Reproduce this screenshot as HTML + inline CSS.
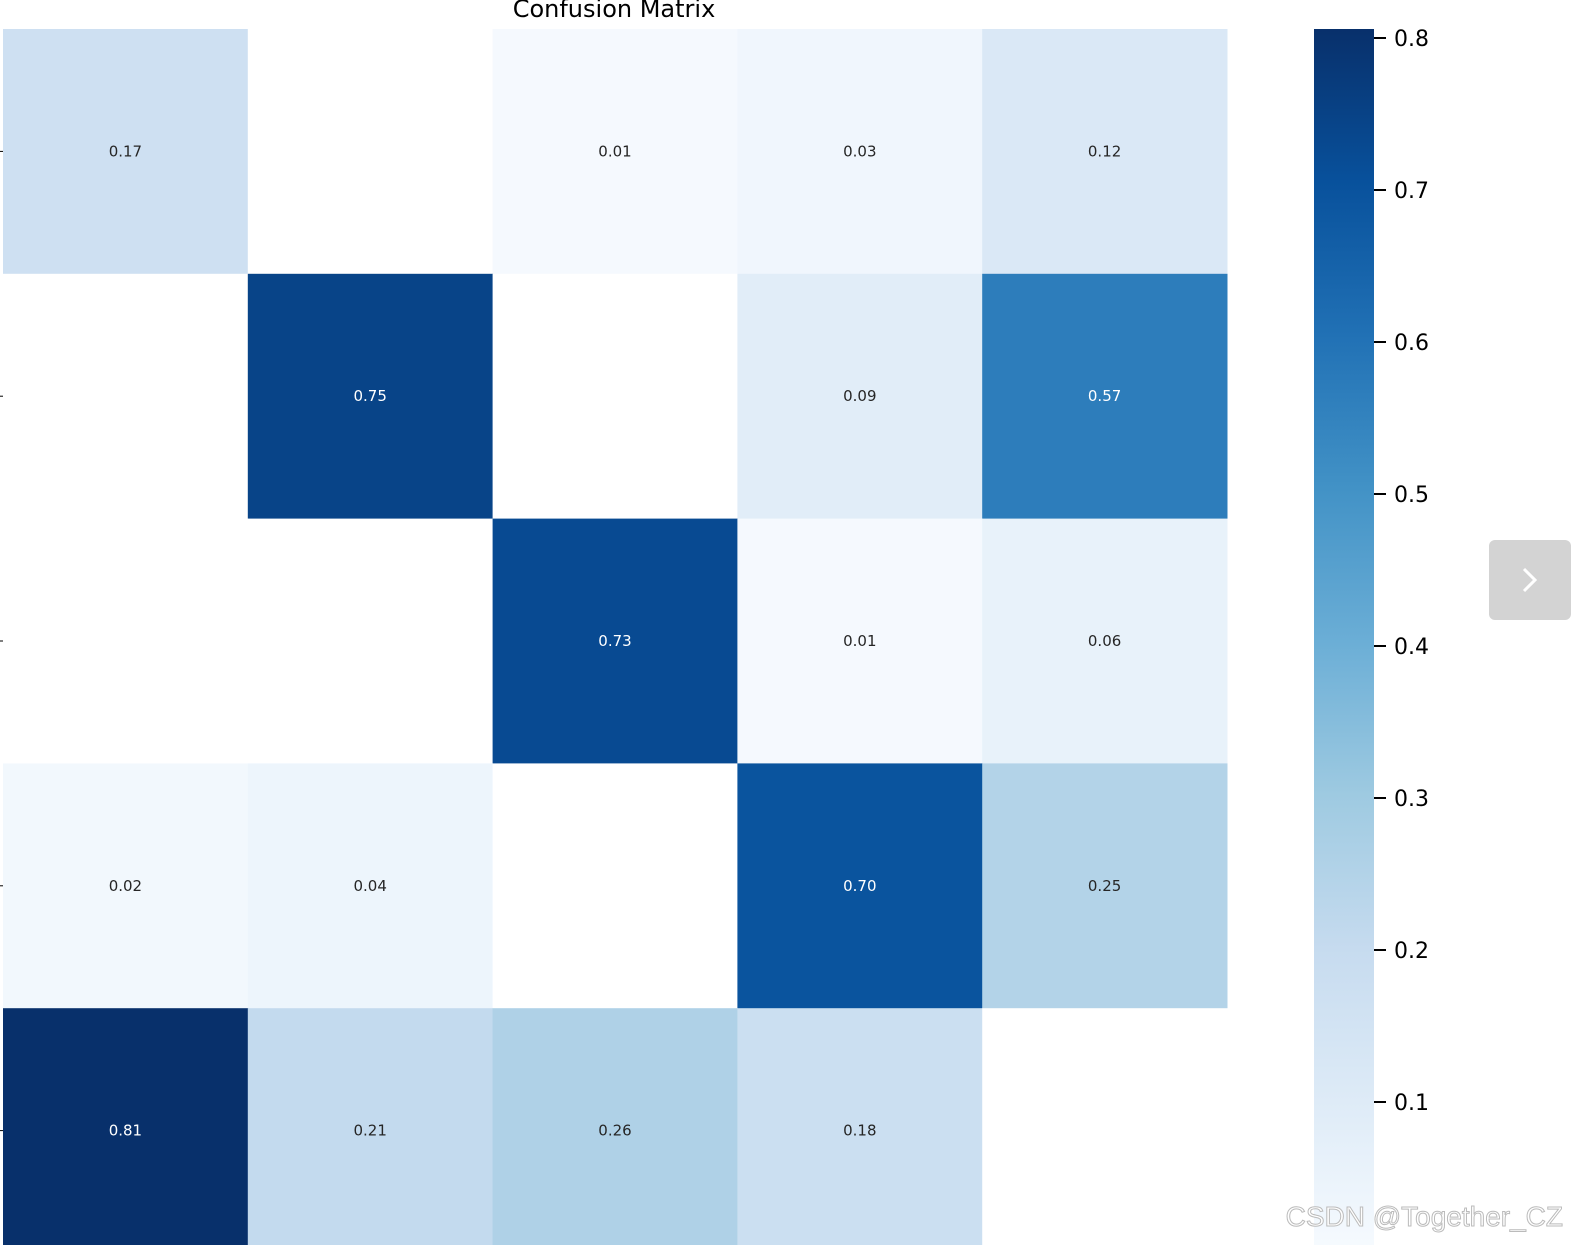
<!DOCTYPE html>
<html><head><meta charset="utf-8"><style>
body{margin:0;width:1571px;height:1245px;overflow:hidden;background:#fff;font-family:"DejaVu Sans","Liberation Sans",sans-serif;}
</style></head><body>
<svg id="chart" width="1571" height="1245">
<defs><linearGradient id="cb" x1="0" y1="1" x2="0" y2="0">
<stop offset="0" stop-color="#f7fbff"/><stop offset="0.125" stop-color="#deebf7"/><stop offset="0.25" stop-color="#c6dbef"/><stop offset="0.375" stop-color="#9ecae1"/><stop offset="0.5" stop-color="#6baed6"/><stop offset="0.625" stop-color="#4292c6"/><stop offset="0.75" stop-color="#2171b5"/><stop offset="0.875" stop-color="#08519c"/><stop offset="1" stop-color="#08306b"/>
</linearGradient></defs>
<g id="cells"></g>
<text x="614" y="17" text-anchor="middle" font-size="24" fill="#000">Confusion Matrix</text>
<rect x="1314" y="29" width="60" height="1226" fill="url(#cb)"/>
<g id="cbticks"></g>
<g>
<rect x="1489" y="540" width="82" height="80" rx="6" fill="#d3d3d3"/>
<path d="M1524 569 L1535 580 L1524 591" stroke="#fff" stroke-width="3" fill="none"/>
</g>
<text x="1563" y="1226" text-anchor="end" font-size="28" fill="#fff" stroke="#bbb" stroke-width="1" font-family="Liberation Sans, sans-serif">CSDN @Together_CZ</text>
</svg>
<script>
const rowVals0=[0.17,0,0.01,0.03,0.12];
const rowVals1=[0,0.75,0,0.09,0.57];
const rowVals2=[0,0,0.73,0.01,0.06];
const rowVals3=[0.02,0.04,0,0.70,0.25];
const rowVals4=[0.81,0.21,0.26,0.18,0];
const matrix=[rowVals0,rowVals1,rowVals2,rowVals3,rowVals4];
const cbTicks=[0.1,0.2,0.3,0.4,0.5,0.6,0.7,0.8];
const vmin=0,vmax=0.81;
const stops=["#f7fbff","#deebf7","#c6dbef","#9ecae1","#6baed6","#4292c6","#2171b5","#08519c","#08306b"].map(h=>[1,3,5].map(i=>parseInt(h.substr(i,2),16)));
function color(v){let t=Math.max(0,Math.min(1,(v-vmin)/(vmax-vmin)))*8;let i=Math.min(7,Math.floor(t)),f=t-i;const c=stops[i].map((a,k)=>Math.round(a+(stops[i+1][k]-a)*f));return `rgb(${c})`;}
const x0=3,y0=29,cw=244.8,ch=244.8;
const xs=c=>x0+c*cw, ys=r=>y0+r*ch;
const cbY=v=>38+(0.8-v)*1520;
const ns="http://www.w3.org/2000/svg";
const g=document.getElementById('cells');
matrix.forEach((row,r)=>{
 const tk=document.createElementNS(ns,'line');
 tk.setAttribute('x1',0);tk.setAttribute('x2',4);tk.setAttribute('y1',ys(r)+ch/2);tk.setAttribute('y2',ys(r)+ch/2);tk.setAttribute('stroke','#000');
 
 
 g.appendChild(tk);
 row.forEach((v,c)=>{
  const rc=document.createElementNS(ns,'rect');
  rc.setAttribute('x',xs(c));rc.setAttribute('y',ys(r));rc.setAttribute('width',cw+0.5);rc.setAttribute('height',ch+0.5);
  rc.setAttribute('fill',v===0?'#fff':color(v));
  
  
  g.appendChild(rc);
  if(v!==0){
   const t=document.createElementNS(ns,'text');
   t.setAttribute('x',xs(c)+cw/2);t.setAttribute('y',ys(r)+ch/2+5);t.setAttribute('text-anchor','middle');t.setAttribute('font-size','15');
   t.setAttribute('fill',v>0.45?'#fff':'#262626');
   t.textContent=v.toFixed(2);
   
   
   g.appendChild(t);
  }
 });
});
const cg=document.getElementById('cbticks');
cbTicks.forEach(v=>{
 const l=document.createElementNS(ns,'line');
 l.setAttribute('x1',1374);l.setAttribute('x2',1386);l.setAttribute('y1',cbY(v));l.setAttribute('y2',cbY(v));l.setAttribute('stroke','#000');l.setAttribute('stroke-width','2');
 
 
 cg.appendChild(l);
 const t=document.createElementNS(ns,'text');
 t.setAttribute('x',1394);t.setAttribute('y',cbY(v)+8);t.setAttribute('font-size','22');t.setAttribute('fill','#000');
 t.textContent=v.toFixed(1);
 
 
 cg.appendChild(t);
});
</script>
</body></html>
